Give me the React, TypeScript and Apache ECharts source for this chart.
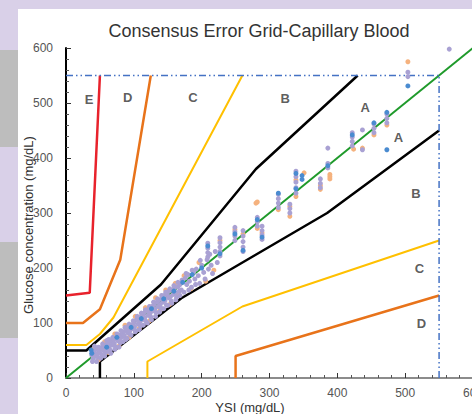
import React, { useEffect, useRef } from "react";
import * as echarts from "echarts";

const titleText = "Consensus Error Grid-Capillary Blood";
const xName = "YSI (mg/dL)";
const yName = "Glucose concentration (mg/dL)";

const axisMin = 0;
const axisMax = 600;
const axisStep = 100;

// Zone boundaries (mg/dL)
const zoneAUpper = [[0, 50], [30, 50], [140, 170], [280, 380], [430, 550]];
const zoneALower = [[50, 0], [50, 30], [170, 145], [385, 300], [550, 450]];
const zoneBUpper = [[0, 60], [30, 60], [50, 80], [70, 110], [260, 550]];
const zoneBLower = [[120, 0], [120, 30], [260, 130], [550, 250]];
const zoneCUpper = [[0, 100], [25, 100], [50, 125], [80, 215], [125, 550]];
const zoneCLower = [[250, 0], [250, 40], [550, 150]];
const zoneDUpper = [[0, 150], [35, 155], [50, 550]];
const identityLine = [[0, 0], [600, 600]];
const limitH = [[0, 550], [550, 550]];
const limitV = [[550, 0], [550, 550]];

const zoneLabels = [
  { name: "E", value: [34, 507] },
  { name: "D", value: [91, 510] },
  { name: "C", value: [187, 510] },
  { name: "B", value: [323, 509] },
  { name: "A", value: [441, 491] },
  { name: "A", value: [490, 438] },
  { name: "B", value: [516, 336] },
  { name: "C", value: [521, 200] },
  { name: "D", value: [524, 100] },
];

const lavenderPts = [
  [38, 42], [40, 36], [41, 48], [43, 40], [44, 52], [46, 44], [47, 38], [49, 50], [50, 46], [52, 55],
  [53, 42], [55, 58], [56, 50], [58, 47], [59, 60], [61, 54], [62, 64], [64, 58], [65, 51], [67, 66],
  [68, 60], [70, 70], [71, 63], [73, 57], [74, 72], [76, 68], [77, 78], [79, 71], [80, 64], [82, 80],
  [83, 75], [85, 84], [86, 77], [88, 70], [89, 88], [91, 82], [92, 94], [94, 86], [95, 79], [97, 96],
  [98, 90], [100, 100], [101, 93], [103, 86], [104, 106], [106, 98], [107, 110], [109, 102], [110, 95], [112, 114],
  [113, 106], [115, 118], [116, 110], [118, 103], [119, 122], [121, 114], [122, 126], [124, 118], [125, 111], [127, 130],
  [128, 122], [130, 134], [131, 126], [133, 119], [134, 138], [136, 130], [137, 142], [139, 134], [140, 127], [142, 145],
  [143, 138], [145, 150], [146, 141], [148, 133], [149, 152], [151, 146], [152, 158], [154, 148], [155, 140], [157, 160],
  [158, 152], [160, 164], [162, 155], [163, 147], [165, 166], [167, 158], [168, 170], [170, 160], [45, 30], [60, 68],
  [39, 30], [42, 58], [48, 56], [51, 36], [54, 62], [57, 40], [60, 48], [63, 70], [66, 45], [69, 74],
  [72, 52], [75, 80], [78, 56], [81, 86], [84, 66], [87, 92], [90, 72], [93, 98], [96, 78], [99, 104],
  [102, 84], [105, 112], [108, 88], [111, 118], [114, 96], [117, 124], [120, 100], [123, 130], [126, 106], [129, 138],
  [132, 112], [135, 144], [138, 120], [141, 150], [144, 126], [147, 156], [150, 132], [153, 162], [156, 136], [159, 168],
  [162, 142], [165, 174], [168, 150], [171, 178], [174, 156], [177, 190], [181, 160], [186, 196], [191, 170], [198, 214],
  [176, 182], [178, 170], [180, 188], [182, 176], [185, 165], [188, 192], [190, 180], [192, 198], [195, 186], [197, 172],
  [200, 205], [203, 192], [205, 180], [208, 215], [210, 198], [212, 225], [214, 205], [216, 190], [220, 230], [223, 210],
  [209, 245], [209, 236], [209, 228], [209, 220], [227, 255], [227, 246], [227, 238], [227, 230], [227, 222],
  [249, 274], [249, 266], [249, 258], [249, 250], [261, 268], [261, 258], [261, 248], [261, 238], [261, 230],
  [282, 292], [282, 284], [282, 276], [289, 276], [289, 268], [289, 260], [289, 252],
  [313, 334], [313, 326], [313, 318], [313, 310], [330, 316], [330, 308], [330, 300],
  [339, 376], [339, 366], [339, 356], [339, 346], [339, 336], [375, 362], [375, 354], [375, 346],
  [386, 418], [386, 390], [386, 382], [422, 446], [422, 438], [422, 430], [422, 422], [437, 451], [437, 415],
  [454, 462], [454, 454], [454, 446], [473, 480], [473, 472], [473, 464], [504, 556], [504, 548], [565, 598],
];

const orangePts = [
  [42, 55], [48, 33], [57, 66], [63, 46], [72, 80], [78, 58], [87, 96], [93, 74], [102, 112], [108, 90],
  [117, 128], [123, 104], [132, 146], [138, 122], [147, 160], [153, 134], [161, 172], [166, 150], [174, 186], [184, 162],
  [196, 210], [206, 176], [218, 196], [227, 250], [249, 270], [261, 262], [282, 272], [282, 320], [289, 264],
  [313, 306], [330, 294], [330, 312], [339, 330], [339, 360], [351, 373], [375, 343], [375, 350],
  [389, 370], [389, 362], [389, 366], [424, 416], [437, 418], [454, 442], [473, 460], [504, 575], [280, 318],
];

const bluePts = [
  [38, 45], [37, 51], [60, 56], [75, 74], [96, 92], [111, 108], [126, 126], [144, 144], [159, 158], [172, 174],
  [186, 188], [200, 200], [209, 240], [227, 226], [249, 262], [261, 232], [282, 288], [289, 256], [313, 336],
  [339, 372], [339, 344], [348, 368], [348, 361], [386, 386], [422, 442], [454, 464], [473, 483], [473, 415], [504, 531],
];

const FONT = "Arial, 'Liberation Sans', Helvetica, sans-serif";

function lineSeries(data: number[][], color: string, width: number, type: any = "solid") {
  return {
    type: "line",
    data,
    symbol: "none",
    silent: true,
    clip: true,
    lineStyle: { color, width, type },
    z: 2,
  };
}

function dotSeries(data: number[][], color: string, z: number) {
  return {
    type: "scatter",
    data,
    symbolSize: 5,
    silent: true,
    itemStyle: { color, opacity: 1 },
    z,
  };
}

export default function App() {
  const ref = useRef<HTMLDivElement>(null);
  useEffect(() => {
    if (!ref.current) return;
    const chart = echarts.init(ref.current, undefined, { renderer: "svg" });
    const dash = [7, 3, 1.5, 3, 1.5, 3];
    chart.setOption({
      animation: false,
      backgroundColor: "#ffffff",
      textStyle: { fontFamily: FONT },
      graphic: [
        { type: "rect", shape: { x: 0, y: 0, width: 472, height: 9 }, style: { fill: "#d9d0e8" }, z: -10 },
        { type: "rect", shape: { x: 0, y: 0, width: 18, height: 414 }, style: { fill: "#d9d0e8" }, z: -10 },
        { type: "rect", shape: { x: 0, y: 50, width: 18, height: 97 }, style: { fill: "#bdbdbd" }, z: -9 },
        { type: "rect", shape: { x: 0, y: 242, width: 18, height: 96 }, style: { fill: "#bdbdbd" }, z: -9 },
        {
          type: "text",
          x: 259,
          y: 31,
          style: { text: titleText, fill: "#333", font: `18px ${FONT}`, align: "center", verticalAlign: "middle" },
        },
        {
          type: "text",
          x: 250,
          y: 407,
          style: { text: xName, fill: "#333", font: `13px ${FONT}`, align: "center", verticalAlign: "middle" },
        },
        {
          type: "text",
          x: 28,
          y: 225,
          rotation: Math.PI / 2,
          style: { text: yName, fill: "#333", font: `13px ${FONT}`, align: "center", verticalAlign: "middle" },
        },
      ],
      grid: { left: 66, top: 48, width: 407, height: 330, show: false, containLabel: false, outerBoundsMode: "none" },
      xAxis: [
        {
          type: "value",
          min: axisMin,
          max: axisMax,
          interval: axisStep,
          axisLine: { show: true, onZero: false, lineStyle: { color: "#000", width: 2 } },
          axisTick: { show: true, inside: true, length: 5, lineStyle: { color: "#333", width: 1 } },
          minorTick: { show: true, splitNumber: 5, length: 3, lineStyle: { color: "#555", width: 1 } },
          splitLine: { show: false },
          axisLabel: { color: "#555", fontSize: 12, margin: 9, fontFamily: FONT },
        },
        {
          type: "value",
          position: "top",
          min: axisMin,
          max: axisMax,
          axisLine: { show: true, lineStyle: { color: "#8c8c8c", width: 2 } },
          axisTick: { show: false },
          axisLabel: { show: false },
          splitLine: { show: false },
        },
      ],
      yAxis: {
        type: "value",
        min: axisMin,
        max: axisMax,
        interval: axisStep,
        axisLine: { show: true, onZero: false, lineStyle: { color: "#000", width: 2 } },
        axisTick: { show: true, inside: true, length: 5, lineStyle: { color: "#333", width: 1 } },
        minorTick: { show: true, splitNumber: 5, length: 3, lineStyle: { color: "#555", width: 1 } },
        splitLine: { show: false },
        axisLabel: { color: "#555", fontSize: 12, margin: 13, fontFamily: FONT },
      },
      series: [
        lineSeries(identityLine, "#1f9a2b", 2),
        lineSeries(zoneAUpper, "#000000", 2.5),
        lineSeries(zoneALower, "#000000", 2.5),
        lineSeries(zoneBUpper, "#ffc000", 2),
        lineSeries(zoneBLower, "#ffc000", 2),
        lineSeries(zoneCUpper, "#e8731a", 2.5),
        lineSeries(zoneCLower, "#e8731a", 2.5),
        lineSeries(zoneDUpper, "#e8222c", 2.5),
        lineSeries(limitH, "#4472c4", 1.5, dash),
        lineSeries(limitV, "#4472c4", 1.5, dash),
        dotSeries(orangePts, "#f5b27e", 3),
        dotSeries(lavenderPts, "#a9a1d3", 4),
        dotSeries(bluePts, "#4a8bd0", 5),
        {
          type: "scatter",
          data: zoneLabels,
          symbolSize: 1,
          silent: true,
          itemStyle: { color: "rgba(0,0,0,0)" },
          label: {
            show: true,
            position: "inside",
            formatter: (p: any) => p.name,
            color: "#333",
            fontSize: 13,
            fontWeight: "bold",
            fontFamily: FONT,
          },
          z: 6,
        },
      ],
    });
    return () => chart.dispose();
  }, []);
  return <div ref={ref} style={{ position: "fixed", left: 0, top: 0, width: 472, height: 414 }} />;
}
